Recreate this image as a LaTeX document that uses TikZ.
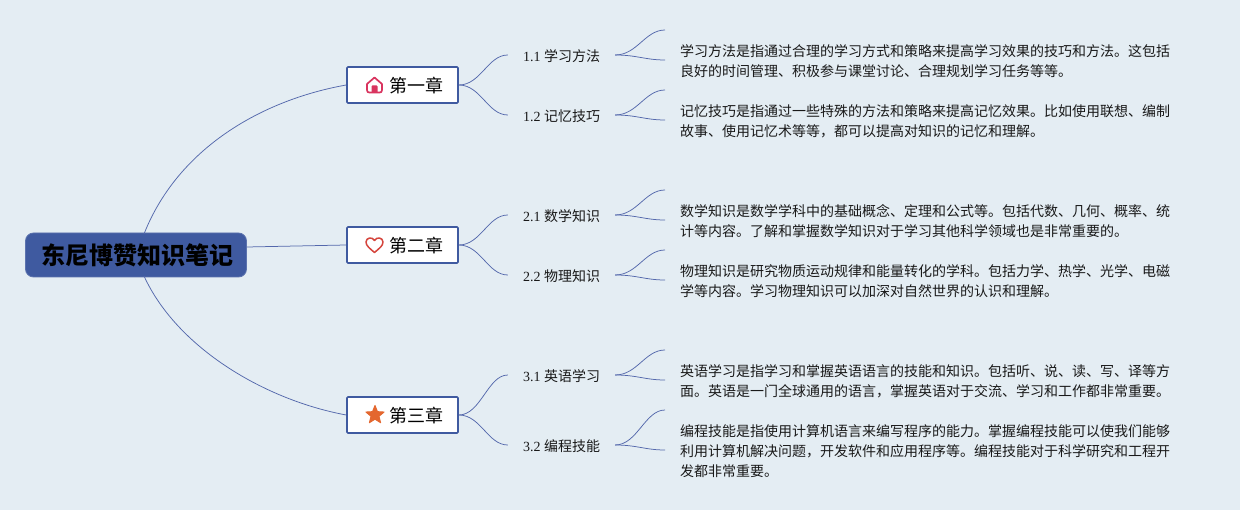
\documentclass[tikz,border=0pt]{standalone}
\usepackage{fontspec}
\setmainfont{Liberation Serif}
\newfontfamily\cjk{Noto Sans CJK SC}
\usetikzlibrary{shapes.geometric}
\definecolor{bgc}{HTML}{E4EDF3}
\definecolor{navy}{HTML}{3F5AA0}
\definecolor{linkc}{HTML}{5468AC}
\tikzset{
  x=1pt,y=-1pt,
  rootbox/.style={draw=navy!85!white,line width=.8pt,fill=navy,rounded corners=8pt,minimum width=221pt,minimum height=44pt,inner sep=0pt,font=\cjk\bfseries\fontsize{24}{28}\selectfont,text=black},
  chapbox/.style={draw=navy,line width=1.6pt,fill=white,rounded corners=1pt,minimum width=111pt,minimum height=36pt,inner sep=0pt},
  chaptext/.style={font=\cjk\fontsize{18}{20}\selectfont,inner sep=0pt,text=black},
  subnode/.style={minimum width=107pt,minimum height=20pt,inner sep=0pt,font=\fontsize{14}{18}\selectfont,text=black!90},
  bodytext/.style={anchor=west,inner sep=0pt,align=left,text width=510pt,font=\cjk\fontsize{14}{20}\selectfont,text=black!90},
  link/.style={draw=linkc,line width=.75pt},
}
\newcommand{\zh}[1]{{\cjk #1}}
\newcommand{\subt}[2]{\raisebox{0pt}[13.2pt][0pt]{#1 \zh{#2}}}
\begin{document}
\begin{tikzpicture}
\useasboundingbox (0,0) rectangle (1240,510);
\fill[bgc] (0,0) rectangle (1240,510);
% free ends
\coordinate (rtop) at (144,234);
\coordinate (rbot) at (144,276);
\coordinate (e11a) at (665,30);  \coordinate (e11b) at (665,60);
\coordinate (e12a) at (665,90);  \coordinate (e12b) at (665,120);
\coordinate (e21a) at (665,190); \coordinate (e21b) at (665,220);
\coordinate (e22a) at (665,250); \coordinate (e22b) at (665,280);
\coordinate (e31a) at (665,350); \coordinate (e31b) at (665,380);
\coordinate (e32a) at (665,410); \coordinate (e32b) at (665,450);
% nodes
\node[chapbox] (c1) at (402.5,85) {};
\node[chapbox] (c2) at (402.5,245) {};
\node[chapbox] (c3) at (402.5,415) {};
\node[rootbox] (root) at (136,255) {\hspace*{2pt}\raisebox{-1pt}{东尼博赞知识笔记}};
\node[chaptext] (t1) at (416,86) {第一章};
\node[chaptext] (t2) at (416,246) {第二章};
\node[chaptext] (t3) at (416,416) {第三章};
\node[subnode] (s11) at (561.5,55) {\subt{1.1}{学习方法}};
\node[subnode] (s12) at (561.5,115) {\subt{1.2}{记忆技巧}};
\node[subnode] (s21) at (561.5,215) {\subt{2.1}{数学知识}};
\node[subnode] (s22) at (561.5,275) {\subt{2.2}{物理知识}};
\node[subnode] (s31) at (561.5,375) {\subt{3.1}{英语学习}};
\node[subnode] (s32) at (561.5,445) {\subt{3.2}{编程技能}};
\node[bodytext] (b11) at (680,61) {学习方法是指通过合理的学习方式和策略来提高学习效果的技巧和方法。这包括\\良好的时间管理、积极参与课堂讨论、合理规划学习任务等等。};
\node[bodytext] (b12) at (680,121) {记忆技巧是指通过一些特殊的方法和策略来提高记忆效果。比如使用联想、编制\\故事、使用记忆术等等，都可以提高对知识的记忆和理解。};
\node[bodytext] (b21) at (680,221) {数学知识是数学学科中的基础概念、定理和公式等。包括代数、几何、概率、统\\计等内容。了解和掌握数学知识对于学习其他科学领域也是非常重要的。};
\node[bodytext] (b22) at (680,281) {物理知识是研究物质运动规律和能量转化的学科。包括力学、热学、光学、电磁\\学等内容。学习物理知识可以加深对自然世界的认识和理解。};
\node[bodytext] (b31) at (680,381) {英语学习是指学习和掌握英语语言的技能和知识。包括听、说、读、写、译等方\\面。英语是一门全球通用的语言，掌握英语对于交流、学习和工作都非常重要。};
\node[bodytext] (b32) at (680,451.5) {编程技能是指使用计算机语言来编写程序的能力。掌握编程技能可以使我们能够\\利用计算机解决问题，开发软件和应用程序等。编程技能对于科学研究和工程开\\发都非常重要。};
% root connectors
\draw[link] (rtop) .. controls (178,148) and (262,100) .. (c1.west);
\draw[link] (root.east |- 0,247) -- (c2.west);
\draw[link] (rbot) .. controls (177,348) and (265,400) .. (c3.west);
% chapter to section
\foreach \c/\s in {c1/s11,c1/s12,c2/s21,c2/s22,c3/s31,c3/s32}{
  \draw[link] (\c.east) .. controls +(22,0) and ([xshift=-20]\s.west) .. (\s.west);
}
% section to end
\foreach \s/\e in {s11/e11a,s11/e11b,s12/e12a,s12/e12b,s21/e21a,s21/e21b,s22/e22a,s22/e22b,s31/e31a,s31/e31b,s32/e32a,s32/e32b}{
  \draw[link] (\s.east) .. controls +(22,0) and ([xshift=-20]\e) .. (\e);
}
% icons
\definecolor{housec}{HTML}{D9345F}
\definecolor{heartc}{HTML}{D5453D}
\definecolor{starc}{HTML}{E4672F}
\draw[housec,line width=1.7pt,line join=round,line cap=round]
  (367,90) -- (367,84) -- (374.5,77.5) -- (382,84) -- (382,90)
  .. controls (382,92) and (381,92.5) .. (379.5,92.5) -- (369.5,92.5) .. controls (368,92.5) and (367,92) .. (367,90) -- cycle;
\fill[housec,rounded corners=1pt] (371.5,93) -- (371.5,85.5) -- (377.5,85.5) -- (377.5,93) -- cycle;
\draw[heartc,line width=1.5pt,line join=round]
  (374.5,252.5) .. controls (370,248.5) and (366,246) .. (366,242)
  .. controls (366,237.5) and (372.5,236.5) .. (374.5,240.5)
  .. controls (376.5,236.5) and (383,237.5) .. (383,242)
  .. controls (383,246) and (379,248.5) .. (374.5,252.5) -- cycle;
\node[star,star points=5,star point ratio=2.3,fill=starc,draw=starc,line join=round,line width=1pt,minimum size=19pt,inner sep=0pt] (staricon) at (375,415) {};
\end{tikzpicture}
\end{document}
